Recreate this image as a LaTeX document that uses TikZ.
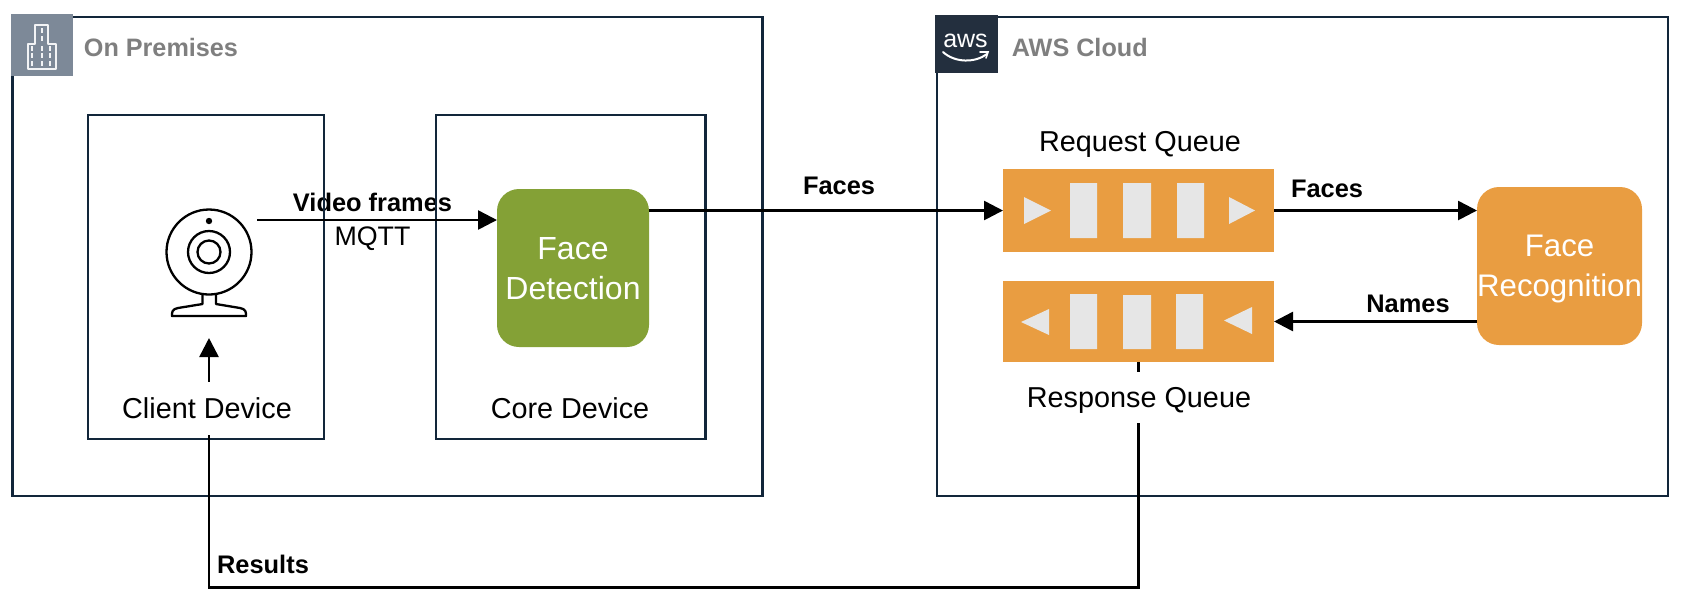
\documentclass[tikz,border=0pt]{standalone}
\usepackage{fontspec}
\setmainfont{Liberation Sans}
\usetikzlibrary{arrows.meta}
\definecolor{navy}{HTML}{12263A}
\definecolor{orangeq}{HTML}{E99D41}
\definecolor{greenb}{HTML}{84A136}
\definecolor{slateb}{HTML}{7D8998}
\definecolor{awsb}{HTML}{232F3E}
\definecolor{lightq}{HTML}{E6E6E6}
\definecolor{grayt}{HTML}{7F7F7F}
\tikzset{
  x=0.5pt,y=-0.5pt,
  frame/.style={draw=navy,line width=1.4pt,fill=none,inner sep=0,outer sep=0},
  conn/.style={draw=black,line width=1.3pt},
  arr/.style={conn,-{Triangle[length=9.5pt,width=9.5pt]}},
  lbl/.style={font=\fontsize{14.4}{17}\selectfont,text=black,inner sep=0},
  edgel/.style={font=\fontsize{12.7}{15}\selectfont\bfseries,text=black,inner sep=0},
  title/.style={font=\fontsize{12.6}{15}\selectfont\bfseries,text=grayt,inner sep=0,anchor=west},
  proc/.style={rounded corners=11pt,text=white,align=center,inner sep=0,outer sep=0,
    font=\fontsize{15.6}{20}\selectfont},
  queue/.style={fill=orangeq,inner sep=0,outer sep=0,minimum width=135.5pt},
  slot/.style={fill=lightq},
  cam/.style={draw=black,line width=1.15pt},
}
\begin{document}
\begin{tikzpicture}
\useasboundingbox (0,0) rectangle (1684,602);
% labels that the frames cross
\node[edgel] (video) at (372.5,202) {Video frames};
\node[lbl,font=\fontsize{13.4}{16}\selectfont] (mqtt) at (372.5,238.5) {MQTT};
% frames
\node[frame,minimum width=375pt,minimum height=239.5pt] (onprem) at (387.5,256.5) {};
\node[frame,minimum width=365.5pt,minimum height=239.5pt] (cloud) at (1302.5,256.5) {};
\node[frame,minimum width=118pt,minimum height=162pt] (client) at (206,277) {};
\node[frame,minimum width=134.75pt,minimum height=162pt] (core) at (570.75,277) {};
% group icons
\node[fill=slateb,inner sep=0,minimum size=31pt] (bicon) at (42,45) {};
\draw[white!90!slateb,line width=0.75pt,line join=round]
  (28,69) -- (28,44) -- (35,44) -- (35,25) -- (48,25) -- (48,44) -- (56,44) -- (56,69) -- cycle;
\foreach \yy in {48,55,63}{\foreach \xx in {32,42,50}{
  \fill[white!90!slateb] (\xx-1,\yy-2.5) rectangle (\xx+1,\yy+2.5);}}
\foreach \yy in {30,38}{\fill[white!90!slateb] (40.5,\yy-2.5) rectangle (42.5,\yy+2.5);}
\node[fill=awsb,inner sep=0,minimum width=31.5pt,minimum height=29pt] (aicon) at (966.5,44) {};
\node[text=white,inner sep=0,font=\fontsize{12.5}{14}\selectfont] (awst) at (965.5,41) {aws};
\draw[white,line width=1pt,line cap=round] (943,52) .. controls (955,63) and (975,63) .. (987,54);
\draw[white,line width=0.8pt,line cap=round] (980,52) -- (988,52) -- (986,58);
\node[title] (tp) at (83.5,47) {On Premises};
\node[title] (tc) at (1011.5,47) {AWS Cloud};
% process boxes
\node[proc,fill=greenb,minimum width=76pt,minimum height=79pt,font=\fontsize{16}{20}\selectfont] (det) at (573,268) {\rule{0pt}{12pt}Face\\Detection};
\node[proc,fill=orangeq,minimum width=82.5pt,minimum height=79pt] (rec) at (1559.5,266) {\rule{0pt}{14pt}Face\\Recognition};
% queues
\node[queue,minimum height=41.5pt] (req) at (1138.5,210.5) {};
\node[queue,minimum height=40.5pt] (resp) at (1138.5,321.5) {};
\fill[slot] (1070,183) rectangle (1097,238) (1123,183) rectangle (1151,238) (1177,183) rectangle (1204,238);
\fill[slot] (1024,197) -- (1051,210.5) -- (1024,224) -- cycle (1229,197) -- (1255,210.5) -- (1229,224) -- cycle;
\fill[slot] (1070,294) rectangle (1097,349) (1123,295) rectangle (1151,349) (1176,294) rectangle (1203,349);
\fill[slot] (1049,309) -- (1021,322) -- (1049,335) -- cycle (1252,307) -- (1224,320.5) -- (1252,334) -- cycle;
% webcam
\coordinate (camout) at (257,220);
\coordinate (camfoot) at (209,338);
\coordinate (bottom) at (209,587.5);
\draw[cam] (209,252) circle[radius=42.5];
\draw[cam] (209,252) circle[radius=21];
\draw[cam] (209,252) circle[radius=11.5];
\fill (209,221) circle[radius=3.2];
\draw[cam,line join=round] (202.5,294) -- (202.5,304) -- (178,308) .. controls (172,309) and (172,312) .. (172,316) -- (246,316) .. controls (246,312) and (246,309) .. (240,308) -- (216,304) -- (216,294);
% connectors
\draw[arr] (camout) -- (det.west |- camout);
\draw[arr] (det.east |- req.west) -- (req.west);
\draw[arr] (req.east) -- (rec.west |- req.east);
\draw[arr] (rec.west |- resp.east) -- (resp.east);
\draw[arr] (resp.south) |- (bottom) -- (camfoot);
% labels
\node[lbl,fill=white,minimum height=26.5pt] (clientl) at (207,408.5) {Client Device};
\node[lbl] (corel) at (570,408) {Core Device};
\node[lbl] (reql) at (1140,144) {Request Queue};
\node[lbl,fill=white,minimum height=25.5pt,text height=13pt] (respl) at (1139,397.5) {Response Queue};
\node[edgel] (f1) at (839,186) {Faces};
\node[edgel] (f2) at (1327,189) {Faces};
\node[edgel] (names) at (1408,304) {Names};
\node[edgel] (results) at (263,564) {Results};
\end{tikzpicture}
\end{document}
